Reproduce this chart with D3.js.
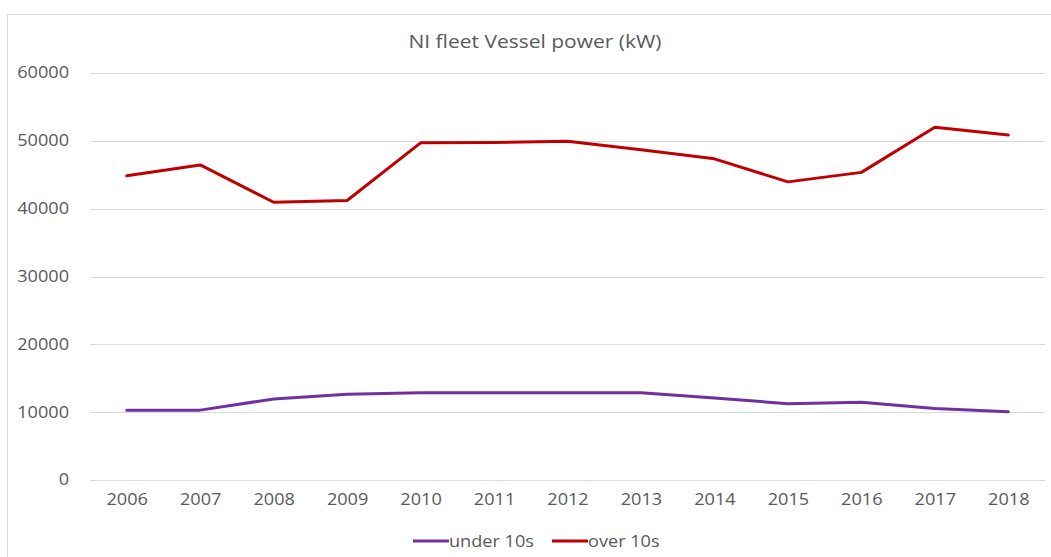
<!DOCTYPE html>
<html>
<head>
<meta charset="utf-8">
<script src="https://cdn.jsdelivr.net/npm/d3@7"></script>
<style>
  body { margin: 0; background: #fff; }
  text { font-family: "Open Sans", sans-serif; fill: #595959; }
</style>
</head>
<body>
<div id="chart"></div>
<script>

// data
var years = ["2006", "2007", "2008", "2009", "2010", "2011", "2012", "2013", "2014", "2015", "2016", "2017", "2018"];
var under10s = [10300, 10300, 11950, 12650, 12850, 12850, 12850, 12850, 12100, 11250, 11450, 10550, 10050];
var over10s = [44850, 46450, 40950, 41200, 49700, 49750, 49950, 48700, 47350, 43950, 45350, 52000, 50850];
var yTicks = [0, 10000, 20000, 30000, 40000, 50000, 60000];

var svgWidth = 1051;
var svgHeight = 557;

// the original text looks a bit stretched sideways
var stretch = 1.17;

var margin = { top: 73, right: 6, bottom: 77, left: 90 };
var width = svgWidth - margin.left - margin.right;
var height = svgHeight - margin.top - margin.bottom;

var svg = d3.select("#chart")
  .append("svg")
  .attr("width", svgWidth)
  .attr("height", svgHeight);

// outer chart border (only left and top edges are visible)
svg.append("rect")
  .attr("x", 7.5)
  .attr("y", 14.5)
  .attr("width", svgWidth + 20)
  .attr("height", svgHeight + 20)
  .attr("fill", "none")
  .attr("stroke", "#d9d9d9")
  .attr("stroke-width", 1);

var chartGroup = svg.append("g")
  .attr("transform", `translate(${margin.left}, ${margin.top})`);

var xScale = d3.scalePoint()
  .domain(years)
  .range([0, width])
  .padding(0.5);

var yScale = d3.scaleLinear()
  .domain([0, 60000])
  .range([height, 0]);

// gridlines
chartGroup.append("g")
  .selectAll("line")
  .data(yTicks)
  .enter()
  .append("line")
  .attr("x1", 0)
  .attr("x2", width)
  .attr("y1", d => Math.round(yScale(d)) + 0.5)
  .attr("y2", d => Math.round(yScale(d)) + 0.5)
  .attr("stroke", "#d9d9d9")
  .attr("stroke-width", 1);

// y axis labels
var leftAxis = d3.axisLeft(yScale)
  .tickValues(yTicks)
  .tickFormat(d3.format("d"))
  .tickSize(0);
var yAxis = chartGroup.append("g").call(leftAxis);
yAxis.select(".domain").remove();
yAxis.selectAll("text")
  .attr("x", -21 / stretch)
  .attr("transform", `scale(${stretch},1)`)
  .attr("font-size", "15.5px")
  .attr("font-family", "Open Sans")
  .style("fill", "#595959");

// x axis labels
var bottomAxis = d3.axisBottom(xScale).tickSize(0).tickPadding(14);
var xAxis = chartGroup.append("g")
  .attr("transform", `translate(0, ${height})`)
  .call(bottomAxis);
xAxis.select(".domain").remove();
xAxis.selectAll("text")
  .attr("transform", `scale(${stretch},1)`)
  .attr("font-size", "15.5px")
  .attr("font-family", "Open Sans")
  .style("fill", "#595959");

// lines
var lineGen = d3.line()
  .x((d, i) => xScale(years[i]))
  .y(d => yScale(d));

var series = [
  { name: "under 10s", values: under10s, color: "#7030a0" },
  { name: "over 10s", values: over10s, color: "#c00000" }
];

chartGroup.selectAll(".series")
  .data(series)
  .enter()
  .append("path")
  .attr("class", "series")
  .attr("d", d => lineGen(d.values))
  .attr("fill", "none")
  .attr("stroke", d => d.color)
  .attr("stroke-width", 3)
  .attr("stroke-linejoin", "round")
  .attr("stroke-linecap", "round");

// title
svg.append("text")
  .attr("transform", `translate(535, 48) scale(1.2,1)`)
  .attr("text-anchor", "middle")
  .attr("font-size", "17.5px")
  .text("NI fleet Vessel power (kW)");

// legend
var legendGroup = svg.append("g")
  .attr("transform", "translate(413, 541)");

var legendX = [0, 139];
series.forEach(function(s, i) {
  var g = legendGroup.append("g").attr("transform", `translate(${legendX[i]}, 0)`);
  g.append("line")
    .attr("x1", 0)
    .attr("x2", 36)
    .attr("y1", 0)
    .attr("y2", 0)
    .attr("stroke", s.color)
    .attr("stroke-width", 3);
  g.append("text")
    .attr("transform", `translate(36, 6) scale(${stretch},1)`)
    .attr("font-size", "15.5px")
    .text(s.name);
});

</script>
</body>
</html>
